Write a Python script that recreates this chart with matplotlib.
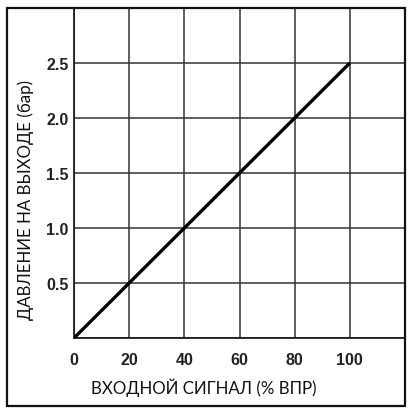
import matplotlib
matplotlib.use("Agg")
import matplotlib.pyplot as plt
from matplotlib.patches import Rectangle

# data
signal_pct = [0, 100]
pressure_bar = [0, 2.5]
x_ticks = [0, 20, 40, 60, 80, 100]
y_ticks = [0.5, 1.0, 1.5, 2.0, 2.5]
x_label = "ВХОДНОЙ СИГНАЛ (% ВПР)"
y_label = "ДАВЛЕНИЕ НА ВЫХОДЕ (бар)"

W, H = 413, 414
fig = plt.figure(figsize=(W / 100, H / 100), dpi=100)

# axes placed in pixel coordinates
left, right, top, bottom = 74, 405, 9, 339
ax = fig.add_axes([left / W, 1 - bottom / H, (right - left) / W, (bottom - top) / H])

ax.plot(signal_pct, pressure_bar, color="black", lw=2.4, solid_capstyle="butt", zorder=3)

ax.set_xlim(0, 120)
ax.set_ylim(0, 3)
ax.set_xticks([0, 20, 40, 60, 80, 100, 120])
ax.set_yticks([0, 0.5, 1.0, 1.5, 2.0, 2.5, 3.0])
ax.set_xticklabels([str(v) for v in x_ticks] + [""])
ax.set_yticklabels([""] + [f"{v:.1f}" for v in y_ticks] + [""])
ax.tick_params(axis="x", length=0, pad=10)
ax.tick_params(axis="y", length=0, pad=4)
for lab in ax.get_xticklabels() + ax.get_yticklabels():
    lab.set_fontfamily("Liberation Sans")
    lab.set_fontweight("bold")
    lab.set_fontsize(11.5)
    lab.set_color("#222222")

ax.grid(True, color="#333333", lw=1.1)
for side in ["top", "right"]:
    ax.spines[side].set_visible(False)
for side in ["left", "bottom"]:
    ax.spines[side].set_color("#111111")
    ax.spines[side].set_linewidth(1.2)

lbl_font = dict(family=["Lato", "Noto Sans", "DejaVu Sans"], fontsize=12.2, color="#111111")
fig.text(204 / W, 1 - 388 / H, x_label, ha="center", va="center", **lbl_font)
fig.text(26 / W, 1 - 200 / H, y_label, ha="center", va="center", rotation=90, **lbl_font)

# outer frame
fig.patches.append(Rectangle((7 / W, 1 - 407 / H), (405 - 7) / W, (407 - 9) / H,
                             transform=fig.transFigure, fill=False,
                             edgecolor="#111111", lw=1.6))

fig.savefig("out.png", dpi=100)
